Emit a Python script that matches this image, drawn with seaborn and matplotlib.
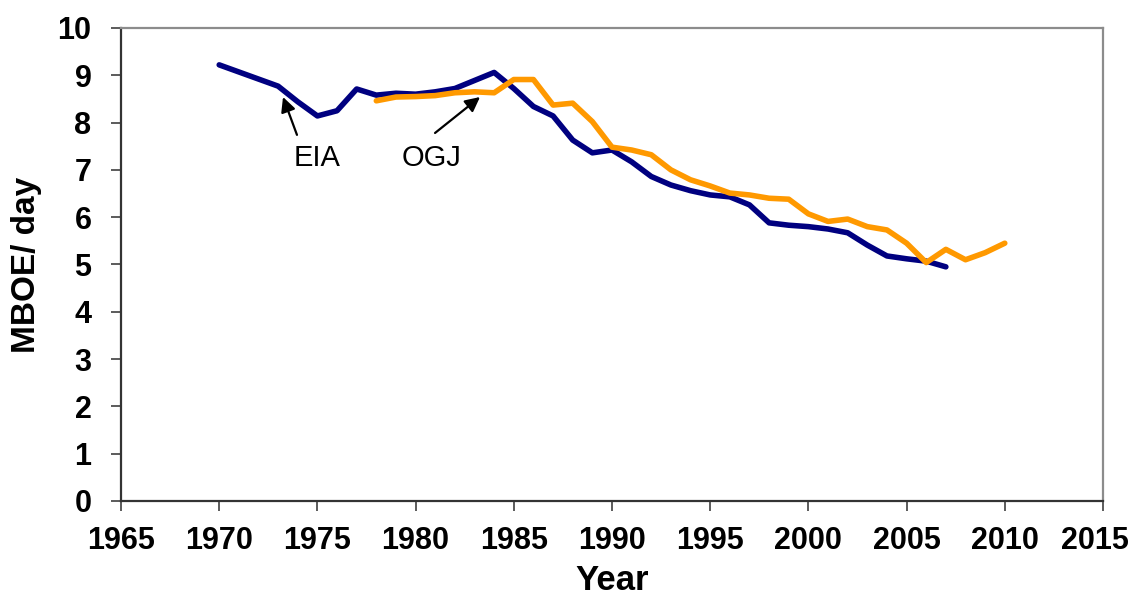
import pandas as pd
import matplotlib.pyplot as plt
import matplotlib.transforms as mtransforms
import seaborn as sns

# EIA series (navy)
eia_years = list(range(1970, 2008))
eia_vals = [9.22, 9.07, 8.92, 8.77, 8.44, 8.14, 8.25, 8.71, 8.58, 8.62,
            8.60, 8.65, 8.72, 8.89, 9.06, 8.72, 8.34, 8.14, 7.63, 7.36,
            7.42, 7.17, 6.86, 6.68, 6.56, 6.47, 6.43, 6.26, 5.88, 5.83,
            5.80, 5.75, 5.67, 5.41, 5.18, 5.12, 5.07, 4.95]

# OGJ series (orange)
ogj_years = list(range(1978, 2011))
ogj_vals = [8.46, 8.54, 8.55, 8.57, 8.63, 8.65, 8.63, 8.91, 8.91, 8.37,
            8.41, 8.02, 7.48, 7.42, 7.32, 7.00, 6.79, 6.66, 6.51, 6.47,
            6.40, 6.38, 6.07, 5.91, 5.96, 5.80, 5.73, 5.45, 5.04, 5.32,
            5.10, 5.25, 5.45]

x_ticks = list(range(1965, 2020, 5))
y_ticks = list(range(0, 11))

sns.set_style("white")
plt.rcParams['font.family'] = ['Liberation Sans', 'DejaVu Sans']
plt.rcParams['text.color'] = 'black'
plt.rcParams['axes.labelcolor'] = 'black'

fig = plt.figure(figsize=(11.35, 5.95), dpi=100)
ax = fig.add_axes([0.1066, 0.158, 0.8652, 0.795])

df_eia = pd.DataFrame({"Year": eia_years, "Value": eia_vals})
df_ogj = pd.DataFrame({"Year": ogj_years, "Value": ogj_vals})
sns.lineplot(data=df_eia, x="Year", y="Value", color="#000080", linewidth=4.0, ax=ax)
sns.lineplot(data=df_ogj, x="Year", y="Value", color="#FF9900", linewidth=4.0, ax=ax)

ax.set_xlim(1965, 2015)
ax.set_ylim(0, 10)
ax.set_xticks(x_ticks)
ax.set_yticks(y_ticks)
ax.tick_params(axis="both", bottom=True, left=True, direction="out", length=7.2,
               width=1.2, color="#404040", labelcolor="black", labelsize=22)
ax.tick_params(axis="x", pad=11)
ax.tick_params(axis="y", pad=14)
for lab in ax.get_xticklabels() + ax.get_yticklabels():
    lab.set_fontweight("bold")
# last year label sits a little left so it stays inside the figure
last = ax.get_xticklabels()[-1]
last.set_transform(last.get_transform() + mtransforms.ScaledTranslation(-8 / 100, 0, fig.dpi_scale_trans))

for s in ax.spines.values():
    s.set_color("#8c8c8c")
    s.set_linewidth(1.6)
ax.spines["bottom"].set_color("#333333")
ax.spines["left"].set_color("#333333")

ax.set_xlabel("Year", fontsize=25, fontweight="bold")
ax.set_ylabel("MBOE/ day", fontsize=24, fontweight="bold")
ax.xaxis.set_label_coords(0.5, -0.133)
ax.yaxis.set_label_coords(-0.08, 0.5)

# arrows and labels
arrow = dict(arrowstyle="-|>", color="black", lw=1.6, mutation_scale=22,
             shrinkA=0, shrinkB=0)
ax.annotate("", xy=(1973.25, 8.54), xytext=(1973.96, 7.74), arrowprops=arrow)
ax.annotate("", xy=(1983.28, 8.54), xytext=(1980.99, 7.78), arrowprops=arrow)
ax.text(1975.0, 7.25, "EIA", fontsize=21, ha="center", va="center")
ax.text(1980.8, 7.25, "OGJ", fontsize=21, ha="center", va="center")

fig.savefig("out.png", dpi=100)
